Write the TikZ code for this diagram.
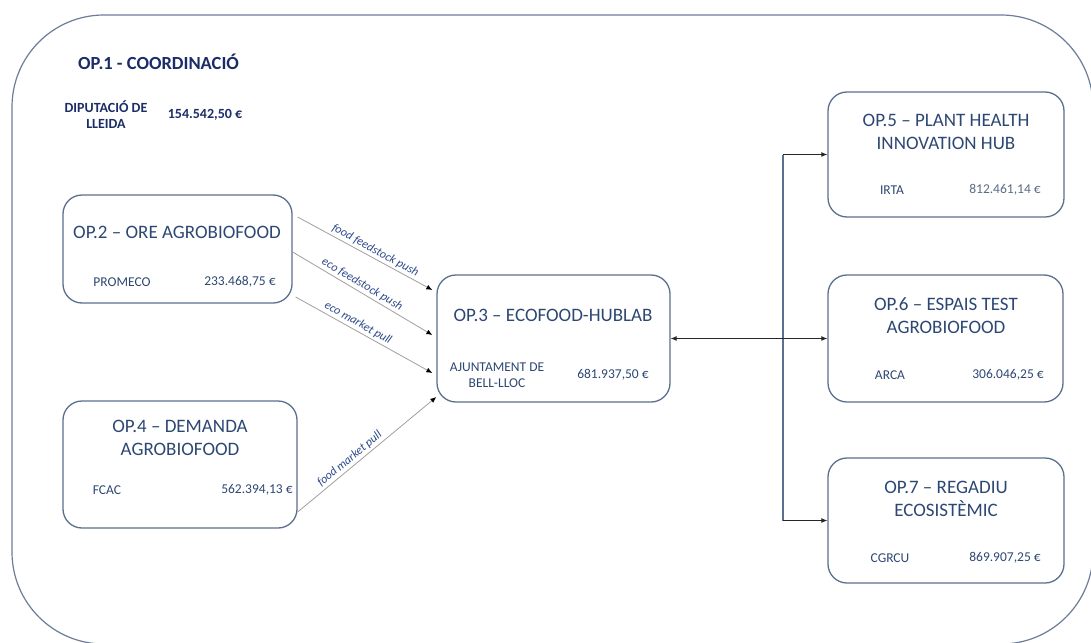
\documentclass[tikz,border=0pt]{standalone}
\usepackage{fontspec}
\setmainfont{Carlito}
\usetikzlibrary{arrows.meta,calc}
\definecolor{navy}{HTML}{1B2D68}
\definecolor{slate}{HTML}{2C4772}
\definecolor{boxline}{HTML}{5B6F8E}
\definecolor{lblcol}{HTML}{2C4A8A}
\definecolor{greyval}{HTML}{5A6A86}
\tikzset{
  opbox/.style={draw=boxline, line width=1.3pt, rounded corners=19pt, inner sep=0pt},
  optitle/.style={text=slate, font=\fontsize{19}{23}\selectfont, align=center, inner sep=0pt},
  opsmall/.style={text=slate, font=\fontsize{13.5}{16}\selectfont, align=center, inner sep=0pt},
  conn/.style={draw=gray!75, line width=0.8pt, -{Latex[length=6pt,width=5pt,color=black]}},
  rconn/.style={draw=black!85, line width=0.9pt},
  lbl/.style={sloped, above, text=lblcol, font=\fontsize{12}{14}\selectfont\itshape, inner sep=2pt},
}
\begin{document}
\begin{tikzpicture}[x=1pt,y=-1pt]
\useasboundingbox (0,0) rectangle (1091,642);
\clip (0,0) rectangle (1091,642);
% outer frame
\draw[draw=boxline!90, line width=1.2pt, rounded corners=92pt] (12,15) rectangle (1093,644);

% OP.1
\node[anchor=west, text=navy, font=\fontsize{18.5}{21}\selectfont\bfseries, inner sep=0pt] (t1) at (78,62) {OP.1 - COORDINACIÓ};
\node[text=navy, font=\fontsize{14}{16}\selectfont\bfseries, align=center, inner sep=0pt] (p1) at (106,115) {DIPUTACIÓ DE\\LLEIDA};
\node[text=navy, font=\fontsize{14}{16}\selectfont\bfseries, inner sep=0pt] (v1) at (205,115) {154.542,50 €};

% boxes
\node[opbox, minimum width=229pt, minimum height=108pt] (b2) at (177.5,249) {};
\node[opbox, minimum width=234pt, minimum height=127pt] (b4) at (180,464.5) {};
\node[opbox, minimum width=233pt, minimum height=127pt] (b3) at (553.5,338.5) {};
\node[opbox, minimum width=236pt, minimum height=125pt] (b5) at (946,154.5) {};
\node[opbox, minimum width=235pt, minimum height=127pt] (b6) at (945.5,338.5) {};
\node[opbox, minimum width=236pt, minimum height=125pt] (b7) at (946,520.5) {};

% OP.2
\node[optitle] (t2) at (177,232) {OP.2 – ORE AGROBIOFOOD};
\node[opsmall] (p2) at (122,282) {PROMECO};
\node[opsmall] (v2) at (240,282) {233.468,75 €};
% OP.4
\node[optitle] (t4) at (180,438) {OP.4 – DEMANDA\\AGROBIOFOOD};
\node[opsmall] (p4) at (107,490) {FCAC};
\node[opsmall] (v4) at (257,490) {562.394,13 €};
% OP.3
\node[optitle] (t3) at (553,315) {OP.3 – ECOFOOD-HUBLAB};
\node[opsmall] (p3) at (497,375) {AJUNTAMENT DE\\BELL-LLOC};
\node[opsmall] (v3) at (613,375) {681.937,50 €};
% OP.5
\node[optitle] (t5) at (946,131.5) {OP.5 – PLANT HEALTH\\INNOVATION HUB};
\node[opsmall] (p5) at (892,190) {IRTA};
\node[opsmall, text=greyval] (v5) at (1005,190) {812.461,14 €};
% OP.6
\node[optitle] (t6) at (946,316) {OP.6 – ESPAIS TEST\\AGROBIOFOOD};
\node[opsmall] (p6) at (890,375) {ARCA};
\node[opsmall] (v6) at (1008,375) {306.046,25 €};
% OP.7
\node[optitle] (t7) at (946,498.5) {OP.7 – REGADIU\\ECOSISTÈMIC};
\node[opsmall] (p7) at (890,558) {CGRCU};
\node[opsmall] (v7) at (1005,558) {869.907,25 €};

% left connectors
\draw[conn] ([shift={(5,-32)}]b2.east) -- ([shift={(-4,-48.5)}]b3.west) node[lbl,pos=.55] {food feedstock push};
\draw[conn] ([shift={(0,3)}]b2.east) -- ([shift={(-4,-3.5)}]b3.west) node[lbl,pos=.47] {eco feedstock push};
\draw[conn] ([shift={(3,48)}]b2.east) -- ([shift={(-4,34.5)}]b3.west) node[lbl,pos=.43] {eco market pull};
\draw[conn] ([shift={(0,47.5)}]b4.east) -- ([shift={(0,58.5)}]b3.west) node[lbl,pos=.41] {food market pull};

% right connectors
\coordinate (j5) at (783,154.5);
\coordinate (j7) at (783,520.5);
\draw[draw=boxline, line width=1.1pt] (j5) -- (j7);
\draw[rconn, {Latex[length=6pt,width=5pt]}-{Latex[length=6pt,width=5pt]}] (b3.east) -- (b6.west);
\draw[rconn, -{Latex[length=6pt,width=5pt]}] (j5) -- (b5.west);
\draw[rconn, -{Latex[length=6pt,width=5pt]}] (j7) -- (b7.west);
\end{tikzpicture}
\end{document}
